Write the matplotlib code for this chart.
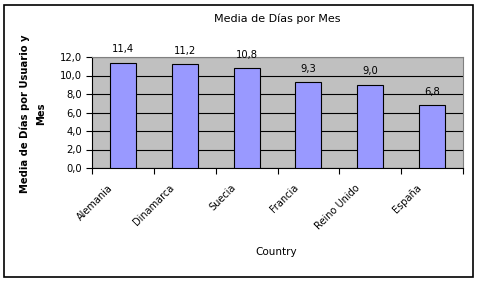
"""Media de Días por Mes - bar chart."""

import matplotlib
matplotlib.use("Agg")
import matplotlib.pyplot as plt
import matplotlib.transforms as mtransforms
from matplotlib.patches import Rectangle
import numpy as np

countries = ["Alemania", "Dinamarca", "Suecia", "Francia", "Reino Unido", "España"]
dias = [11.4, 11.2, 10.8, 9.3, 9.0, 6.8]
y_ticks = [0.0, 2.0, 4.0, 6.0, 8.0, 10.0, 12.0]

plt.rcParams["font.family"] = ["DejaVu Sans"]

fig = plt.figure(figsize=(4.79, 2.82), dpi=100)
fig.patches.append(Rectangle((4 / 479, 1 - 277 / 282), 469 / 479, 272 / 282,
                             transform=fig.transFigure, fill=False,
                             edgecolor="black", linewidth=1.2))

ax = fig.add_axes([92 / 479, 1 - 168 / 282, 371 / 479, 111 / 282])
ax.set_facecolor("#C0C0C0")
x = np.arange(len(countries))
ax.bar(x, dias, width=0.42, color="#9999FF", edgecolor="black", linewidth=0.8, zorder=3)
for xi, v in zip(x, dias):
    ax.annotate(f"{v:.1f}".replace(".", ","), (xi, v), xytext=(0, 6), textcoords="offset points",
                ha="center", va="bottom", fontsize=7.2)

ax.set_xlim(-0.5, len(countries) - 0.5)
ax.set_ylim(0, 12)
ax.set_yticks(y_ticks)
ax.set_yticklabels([f"{t:.1f}".replace(".", ",") for t in y_ticks], fontsize=7.2)
ax.yaxis.grid(True, color="black", linewidth=0.8, zorder=1)
ax.set_axisbelow(True)

# category boundaries carry the ticks, names sit under the bars
ax.set_xticks(np.arange(-0.5, len(countries), 1.0))
ax.set_xticklabels([])
ax.tick_params(axis="x", length=4, width=0.8)
ax.tick_params(axis="y", length=4, width=0.8, pad=3)
shift = mtransforms.ScaledTranslation(-12 / 100, -18 / 100, fig.dpi_scale_trans)
for xi, name in zip(x, countries):
    ax.text(xi, 0, name, transform=ax.get_xaxis_transform() + shift, rotation=45,
            rotation_mode="anchor", ha="right", va="center", fontsize=7)

for side in ("top", "right"):
    ax.spines[side].set_color("#808080")
for side in ("left", "bottom"):
    ax.spines[side].set_color("black")

fig.text(277 / 479, 1 - 19 / 282, "Media de Días por Mes", ha="center", va="center", fontsize=8)
fig.text(276 / 479, 1 - 252 / 282, "Country", ha="center", va="center", fontsize=7.5)
fig.text(33 / 479, 1 - 114 / 282, "Media de Días por Usuario y\nMes", ha="center", va="center",
         rotation=90, fontsize=7.2, fontweight="bold", linespacing=1.7)

fig.savefig("out.png", dpi=100)
